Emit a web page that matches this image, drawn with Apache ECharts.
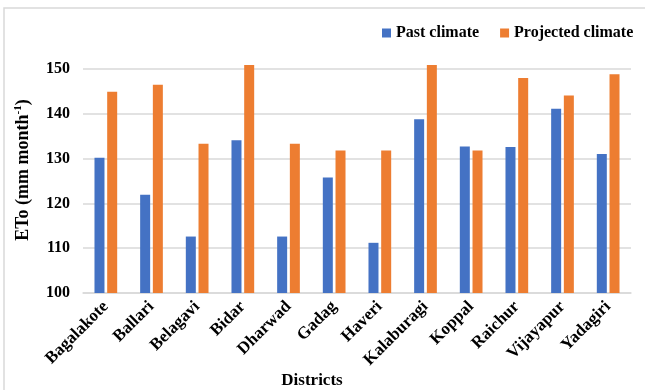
<!DOCTYPE html>
<html><head><meta charset="utf-8">
<script src="https://cdn.jsdelivr.net/npm/echarts@6/dist/echarts.min.js"></script>
<style>html,body{margin:0;padding:0;background:#fff}#c{width:645px;height:390px}</style>
</head><body><div id="c"></div>
<script>
const categories = ["Bagalakote","Ballari","Belagavi","Bidar","Dharwad","Gadag","Haveri","Kalaburagi","Koppal","Raichur","Vijayapur","Yadagiri"];
const pastClimate = [130.2,121.9,112.6,134.1,112.6,125.8,111.2,138.8,132.7,132.6,141.1,131.0];
const projectedClimate = [144.9,146.5,133.3,150.9,133.3,131.8,131.8,150.9,131.8,148.0,144.1,148.8];
const yTicks = [100,110,120,130,140,150];
const font = "'Liberation Serif','Times New Roman',serif";
const chart = echarts.init(document.getElementById('c'));
chart.setOption({
  animation:false,
  graphic:[{type:'rect',shape:{x:4,y:8,width:660,height:400},style:{fill:'none',stroke:'#d9d9d9',lineWidth:1.5},silent:true}],
  legend:{top:20,left:377,itemWidth:9,itemHeight:9,itemGap:21,icon:'rect',
    textStyle:{fontFamily:font,fontWeight:'bold',fontSize:16,color:'#000'},
    data:['Past climate','Projected climate']},
  grid:{left:83,right:14,top:60,bottom:97,outerBoundsMode:'none',containLabel:false},
  xAxis:{type:'category',data:categories,
    axisLine:{lineStyle:{color:'#d9d9d9',width:1.5}},axisTick:{show:false},
    axisLabel:{rotate:45,interval:0,margin:11,fontFamily:font,fontWeight:'bold',fontSize:17,color:'#000'},
    name:'Districts',nameLocation:'middle',nameGap:79,nameMoveOverlap:false,
    nameTextStyle:{fontFamily:font,fontWeight:'bold',fontSize:17,color:'#000',padding:[0,90,0,0]}},
  yAxis:{type:'value',min:yTicks[0],max:152,interval:10,
    axisLine:{show:false},axisTick:{show:false},
    splitLine:{showMaxLine:false,lineStyle:{color:'#d9d9d9',width:1.5}},
    axisLabel:{showMaxLabel:false,margin:13,fontFamily:font,fontWeight:'bold',fontSize:16,color:'#000'},
    name:'{a|ETo (mm month}{s|-1}{a|)}',nameLocation:'middle',nameGap:50,nameMoveOverlap:false,
    nameTextStyle:{padding:[0,0,0,13],rich:{a:{fontFamily:font,fontWeight:'bold',fontSize:18,color:'#000'},
      s:{fontFamily:font,fontWeight:'bold',fontSize:11,color:'#000',verticalAlign:'top',padding:[0,0,9,0]}}}},
  series:[
    {name:'Past climate',type:'bar',data:pastClimate,barWidth:10,barGap:'27%',itemStyle:{color:'#4472c4'}},
    {name:'Projected climate',type:'bar',data:projectedClimate,barWidth:10,itemStyle:{color:'#ed7d31'}}
  ]
});
</script></body></html>
